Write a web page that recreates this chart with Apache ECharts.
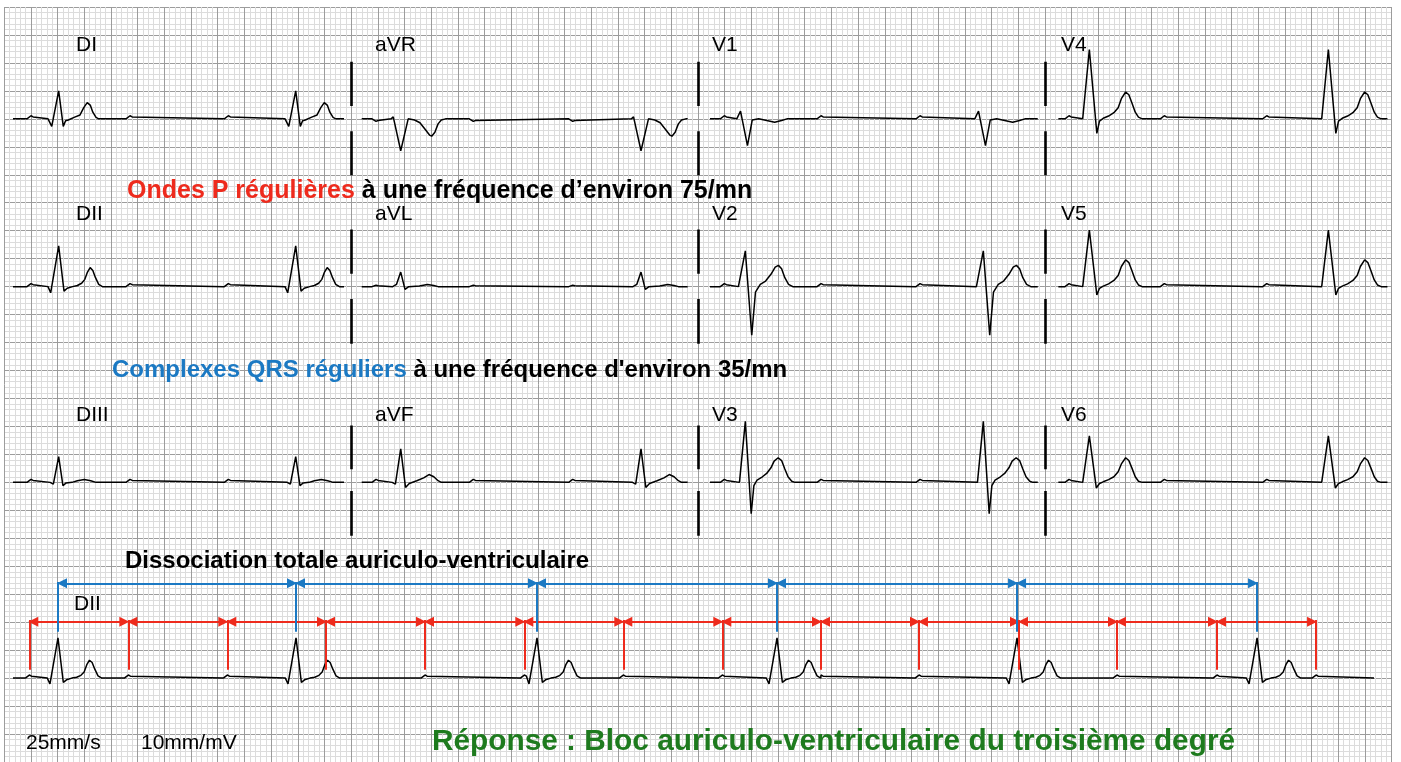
<!DOCTYPE html>
<html>
<head>
<meta charset="utf-8">
<script src="https://cdn.jsdelivr.net/npm/echarts@6/dist/echarts.min.js"></script>
<style>
  html, body { margin: 0; padding: 0; background: #fff; }
  #ecg { width: 1401px; height: 762px; }
</style>
</head>
<body>
<div id="ecg"></div>
<script>
// ECG 12 dérivations + DII long — BAV 3e degré
// unités : mm de papier (x : 25 mm/s, y : 10 mm/mV), y = 0 en bas de la grille

// début / fin des tracés de chaque colonne
var colStart = [1.63, 66.98, 132.25, 197.53];
var colEnd = [63.66, 128.07, 193.67, 259.2];
// ligne de base des 3 rangées
var rowBase = [115, 85, 50];
var stripBase = 15;
var stripStart = 1.63, stripEnd = 256.69;

// positions des ondes P et des QRS (sommet) par colonne
var colP = [
  [5.0, 23.56, 41.98],
  [69.66, 87.89, 106.52],
  [134.93, 153.06, 171.61],
  [199.53, 217.39, 236.58]
];
var colR = [
  [10.19, 54.61],
  [74.29, 119.32],
  [138.87, 183.47],
  [203.34, 248.13]
];
// DII long
var stripP = [4.69, 23.24, 41.79, 60.29, 78.84, 97.45, 116.0, 134.56, 153.05, 171.42, 190.16, 208.52, 227.26, 245.82];
var stripR = [10.06, 54.67, 99.83, 144.81, 189.79, 234.77];

// formes relevées : [décalage mm, amplitude mm]
var pUp = [[-0.75, 0], [-0.4, 0.35], [0, 0.55], [0.4, 0.35], [0.75, 0]];
var pDown = [[-0.75, 0], [-0.4, -0.3], [0, -0.45], [0.4, -0.3], [0.75, 0]];
var pLow = [[-0.75, 0], [-0.4, 0.15], [0, 0.25], [0.4, 0.15], [0.75, 0]];

var qrsDI = [[-2.0, 0], [-1.3, -1.35], [0, 5.0], [0.86, -1.35], [1.3, -0.35], [1.8, -0.2], [3.0, 0.3], [4.0, 0.7], [4.7, 2.0], [5.35, 2.9], [5.95, 2.4], [6.4, 1.2], [7.0, 0.25], [7.5, 0]];
var qrsDII = [[-2.0, 0], [-1.5, -1.1], [0, 7.3], [1.0, -0.8], [1.6, -0.3], [2.6, 0], [3.5, 0.2], [4.3, 0.6], [4.9, 1.3], [5.4, 2.6], [5.9, 3.4], [6.4, 2.9], [6.9, 1.6], [7.5, 0.4], [8.2, 0]];
var qrsDIII = [[-1.6, 0], [-1.0, -0.3], [0, 4.6], [0.8, -0.6], [1.4, -0.1], [2.5, 0], [3.5, 0.3], [4.8, 0.5], [6.0, 0.3], [7.0, 0]];
var qrsAVR = [[-1.8, 0], [-1.4, 0.35], [0, -5.7], [1.4, 0], [2.6, -0.2], [3.6, -0.7], [4.6, -1.9], [5.4, -2.9], [5.8, -3.1], [6.4, -2.4], [7.0, -0.9], [7.6, -0.2], [8.4, 0]];
var qrsAVL = [[-1.5, 0], [-0.8, 0.4], [0, 2.6], [0.8, -0.5], [1.5, 0], [3.5, 0.1], [5.0, 0.4], [6.2, 0.2], [7.0, 0]];
var qrsAVF = [[-1.6, 0], [-1.0, -0.3], [0, 6.0], [0.9, -0.9], [1.6, -0.2], [3.0, 0.3], [4.3, 0.8], [5.3, 1.4], [6.2, 1.0], [7.0, 0.3], [7.6, 0]];
var qrsV1 = [[-1.6, 0], [-0.9, 1.4], [0.4, -4.8], [1.3, -0.2], [2.5, 0], [4.0, -0.3], [5.5, -0.6], [6.8, -0.3], [7.8, 0]];
var qrsV2 = [[-1.3, 0], [0, 6.4], [1.2, -8.7], [1.9, -1.0], [2.8, 0.4], [3.8, 1.0], [4.8, 2.2], [5.6, 3.5], [6.2, 3.8], [6.8, 3.2], [7.4, 1.6], [8.1, 0.4], [8.9, 0]];
var qrsV3 = [[-1.1, 0], [0, 10.9], [1.1, -5.6], [1.6, -0.6], [2.2, 0.4], [3.2, 1.0], [4.0, 1.6], [4.8, 2.6], [5.4, 3.8], [6.15, 4.4], [6.8, 3.9], [7.4, 2.4], [8.0, 1.0], [8.7, 0.2], [9.3, 0]];
var qrsV4 = [[-1.25, 0], [0, 12.4], [1.4, -2.6], [1.9, -0.4], [2.6, 0.1], [3.6, 0.5], [4.6, 1.1], [5.4, 2.0], [6.0, 3.6], [6.8, 4.8], [7.4, 4.3], [8.0, 2.8], [8.6, 1.2], [9.2, 0.3], [9.9, 0]];
var qrsV5 = [[-1.25, 0], [0, 10.1], [1.4, -1.5], [1.9, -0.3], [2.6, 0.1], [3.6, 0.5], [4.6, 1.1], [5.4, 2.0], [6.0, 3.6], [6.8, 4.8], [7.4, 4.3], [8.0, 2.8], [8.6, 1.2], [9.2, 0.3], [9.9, 0]];
var qrsV6 = [[-1.25, 0], [0, 8.3], [1.3, -1.0], [1.9, -0.2], [2.6, 0.1], [3.6, 0.5], [4.6, 1.0], [5.4, 1.9], [6.0, 3.3], [6.8, 4.4], [7.4, 3.9], [8.0, 2.5], [8.6, 1.0], [9.2, 0.2], [9.9, 0]];
var qrsStrip = [[-2.0, 0], [-1.5, -1.05], [0, 7.2], [1.0, -0.75], [1.6, -0.3], [2.6, 0], [3.5, 0.15], [4.3, 0.5], [4.9, 1.1], [5.4, 2.4], [5.9, 3.2], [6.4, 2.8], [6.9, 1.6], [7.5, 0.4], [8.2, 0]];

var leadNames = [
  ['DI', 'aVR', 'V1', 'V4'],
  ['DII', 'aVL', 'V2', 'V5'],
  ['DIII', 'aVF', 'V3', 'V6']
];
var leadQrs = [
  [qrsDI, qrsAVR, qrsV1, qrsV4],
  [qrsDII, qrsAVL, qrsV2, qrsV5],
  [qrsDIII, qrsAVF, qrsV3, qrsV6]
];
var leadP = [
  [pUp, pDown, pUp, pUp],
  [pUp, pLow, pUp, pUp],
  [pUp, pUp, pUp, pUp]
];

// séparateurs entre colonnes (x) et leurs traits (y haut, y bas)
var sepX = [65, 130, 195];
var sepSeg = [[125.2, 117.3], [112.8, 104.9], [95.2, 87.3], [82.8, 74.8], [60.15, 52.35], [48.45, 40.45]];

// repères du DII long
var redTop = 25.4, redBottom = 16.5, redArrowY = 25.1;
var blueTop = 32.2, blueBottom = 23.3, blueArrowY = 31.95;

// construit le tracé d'une dérivation : P cachées dans un QRS-T non dessinées
function buildTrace(start, end, base, pList, rList, qrs, pw) {
  var spans = rList.map(function (r) { return [r + qrs[0][0], r + qrs[qrs.length - 1][0]]; });
  var ev = [];
  pList.forEach(function (p) {
    var hidden = spans.some(function (s) { return p >= s[0] && p <= s[1]; });
    if (!hidden) ev.push({ x: p, shape: pw });
  });
  rList.forEach(function (r) { ev.push({ x: r, shape: qrs }); });
  ev.sort(function (a, b) { return a.x - b.x; });
  var pts = [[start, base]];
  var lastX = start;
  ev.forEach(function (e) {
    e.shape.forEach(function (s) {
      var x = e.x + s[0];
      if (x > lastX) { pts.push([x, base + s[1]]); lastX = x; }
    });
  });
  pts.push([end, base]);
  return pts;
}

var series = [];
leadNames.forEach(function (row, ri) {
  row.forEach(function (name, ci) {
    series.push({
      name: name, type: 'line', showSymbol: false, silent: true, z: 5,
      lineStyle: { color: '#000', width: 1.5 },
      data: buildTrace(colStart[ci], colEnd[ci], rowBase[ri], colP[ci], colR[ci], leadQrs[ri][ci], leadP[ri][ci])
    });
  });
});
series.push({
  name: 'DII long', type: 'line', showSymbol: false, silent: true, z: 5,
  lineStyle: { color: '#000', width: 1.5 },
  data: buildTrace(stripStart, stripEnd, stripBase, stripP, stripR, qrsStrip, pUp)
});

// séparateurs
var sepData = [];
sepX.forEach(function (x) {
  sepSeg.forEach(function (s) { sepData.push({ coords: [[x, s[0]], [x, s[1]]] }); });
});
series.push({
  type: 'lines', coordinateSystem: 'cartesian2d', silent: true, z: 6,
  symbol: 'none', lineStyle: { color: '#000', width: 2.6, opacity: 1 },
  data: sepData
});

// repères rouges (P) et bleus (QRS)
function marks(xs, top, bottom, arrowY, color) {
  var v = xs.map(function (x) { return { coords: [[x, top], [x, bottom]] }; });
  var a = [];
  for (var i = 0; i < xs.length - 1; i++) {
    a.push({ coords: [[xs[i] + 0.75, arrowY], [xs[i + 1] - 0.75, arrowY]] });
  }
  return [
    { type: 'lines', coordinateSystem: 'cartesian2d', silent: true, z: 7, symbol: 'none',
      lineStyle: { color: color, width: 2, opacity: 1 }, data: v },
    { type: 'lines', coordinateSystem: 'cartesian2d', silent: true, z: 7,
      symbol: ['triangle', 'triangle'], symbolSize: [10, 10],
      lineStyle: { color: color, width: 2, opacity: 1 }, data: a }
  ];
}
series = series.concat(marks(stripP, redTop, redBottom, redArrowY, '#ee2b1d'));
series = series.concat(marks(stripR, blueTop, blueBottom, blueArrowY, '#1b79c3'));

var FONT = '"Liberation Sans", Arial, Helvetica, sans-serif';
var labelX = [76, 375, 712, 1061];
var labelY = [45.5, 214.5, 415];
var graphics = [];
leadNames.forEach(function (row, ri) {
  row.forEach(function (name, ci) {
    graphics.push({ type: 'text', x: labelX[ci], y: labelY[ri], z: 10,
      style: { text: name, fill: '#000', font: '21px ' + FONT, verticalAlign: 'middle' } });
  });
});
graphics.push({ type: 'text', x: 74, y: 604, z: 10,
  style: { text: 'DII', fill: '#000', font: '21px ' + FONT, verticalAlign: 'middle' } });
graphics.push({ type: 'text', x: 26, y: 743, z: 10,
  style: { text: '25mm/s', fill: '#000', font: '21px ' + FONT, verticalAlign: 'middle' } });
graphics.push({ type: 'text', x: 141, y: 743, z: 10,
  style: { text: '10mm/mV', fill: '#000', font: '21px ' + FONT, verticalAlign: 'middle' } });

function richText(x, y, a, b, colA, size) {
  return { type: 'text', x: x, y: y, z: 10,
    style: {
      text: '{a|' + a + '}{b|' + b + '}', verticalAlign: 'middle',
      rich: {
        a: { fill: colA, fontFamily: FONT, fontWeight: 'bold', fontSize: size },
        b: { fill: '#000', fontFamily: FONT, fontWeight: 'bold', fontSize: size }
      }
    } };
}
graphics.push(richText(127, 191, 'Ondes P régulières', ' à une fréquence d’environ 75/mn', '#ee2b1d', 25));
graphics.push(richText(112, 370, 'Complexes QRS réguliers', ' à une fréquence d\'environ 35/mn', '#1b79c3', 24));
graphics.push(richText(125, 561, '', 'Dissociation totale auriculo-ventriculaire', '#000', 24));
graphics.push({ type: 'text', x: 432, y: 742, z: 10,
  style: { text: 'Réponse : Bloc auriculo-ventriculaire du troisième degré', fill: '#1e7b1e',
    font: 'bold 29.8px ' + FONT, verticalAlign: 'middle' } });

var chart = echarts.init(document.getElementById('ecg'), null, { renderer: 'canvas' });
chart.setOption({
  animation: false,
  backgroundColor: '#fff',
  grid: { left: 4.3, top: 7, width: 1387.4, height: 761.1 },
  xAxis: {
    type: 'value', min: 0, max: 260, interval: 5,
    axisLine: { show: false }, axisTick: { show: false }, axisLabel: { show: false },
    splitLine: { show: true, lineStyle: { color: '#9c9c9c', width: 1 } },
    minorTick: { show: false, splitNumber: 5 },
    minorSplitLine: { show: true, lineStyle: { color: '#dcdcdc', width: 1 } }
  },
  yAxis: {
    type: 'value', min: 0, max: 135, interval: 5,
    axisLine: { show: false }, axisTick: { show: false }, axisLabel: { show: false },
    splitLine: { show: true, lineStyle: { color: '#9c9c9c', width: 1 } },
    minorTick: { show: false, splitNumber: 5 },
    minorSplitLine: { show: true, lineStyle: { color: '#dcdcdc', width: 1 } }
  },
  series: series,
  graphic: graphics
});
window.addEventListener('resize', function () { chart.resize(); });
</script>
</body>
</html>
